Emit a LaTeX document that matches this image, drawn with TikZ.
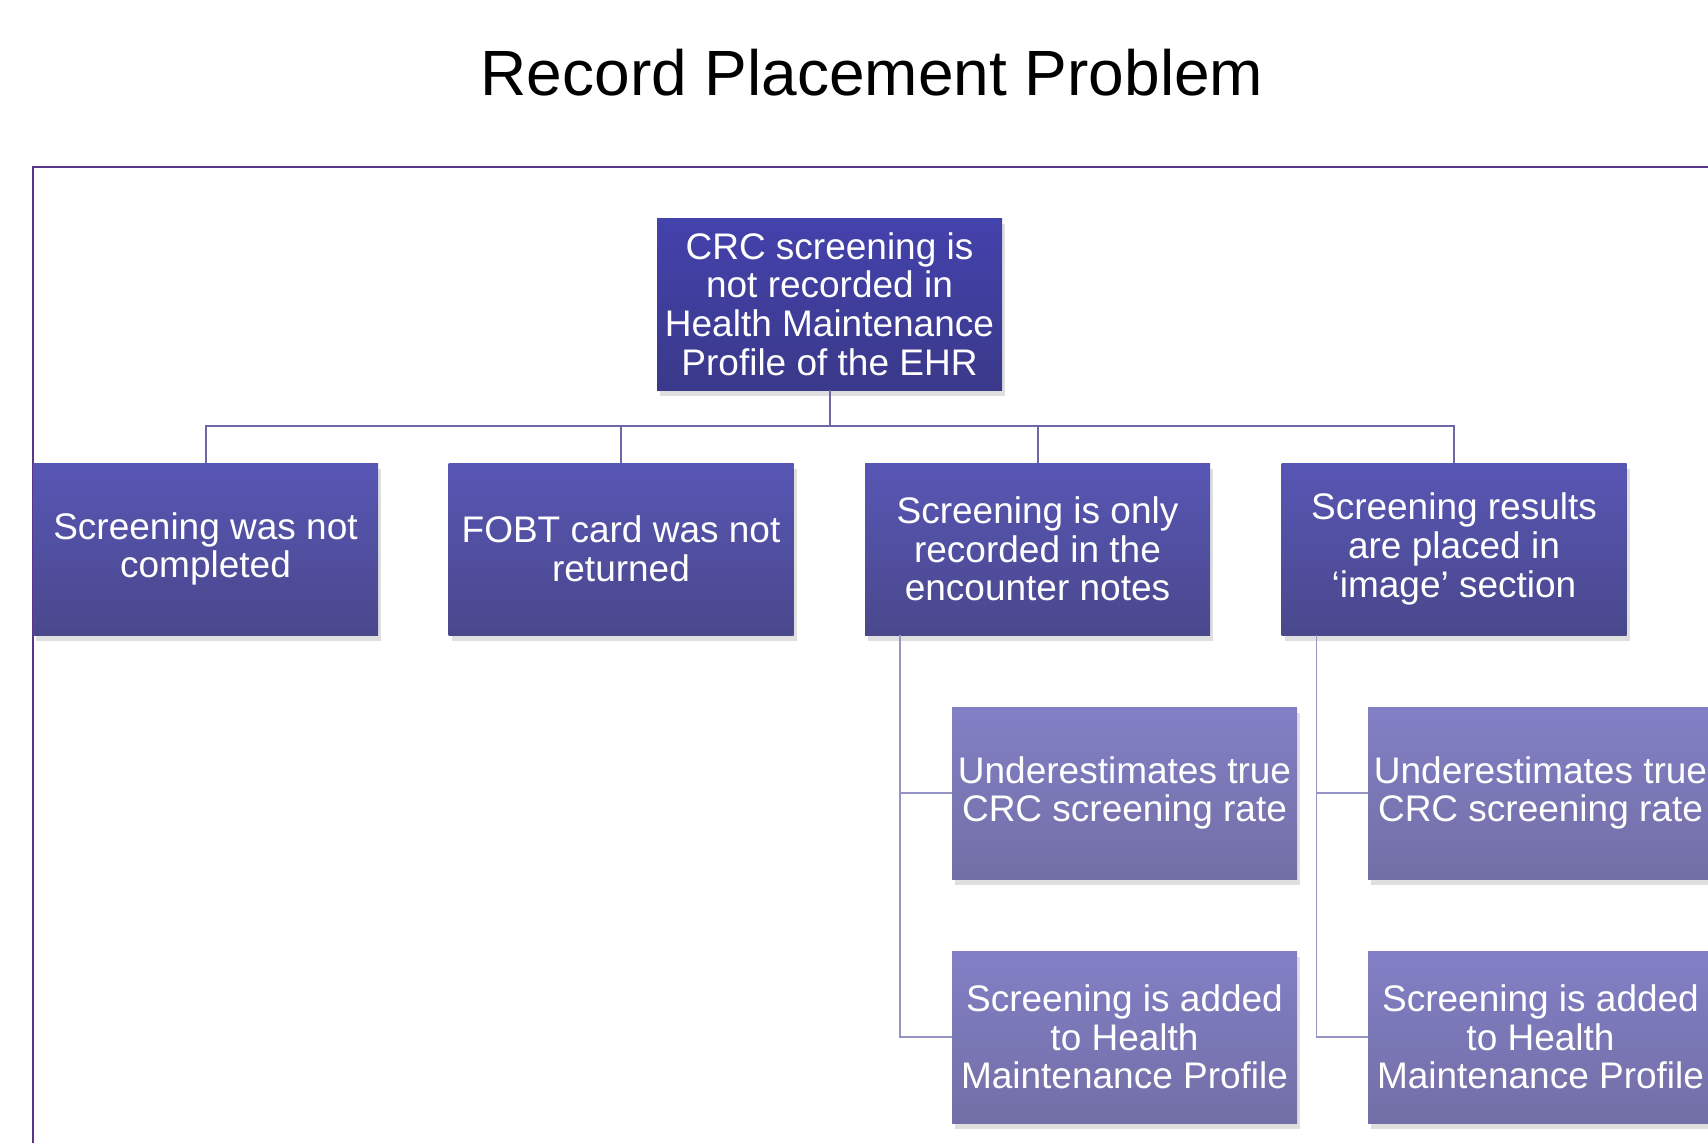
\documentclass[tikz,border=0pt]{standalone}
\usepackage{fontspec}
\setmainfont{Liberation Sans}
\usetikzlibrary{shadows}
\definecolor{framepurple}{RGB}{88,54,138}
\definecolor{linkpurple}{RGB}{108,104,168}
\definecolor{linklight}{RGB}{150,148,196}
\definecolor{topA}{RGB}{68,66,172}
\definecolor{topB}{RGB}{58,57,138}
\definecolor{midA}{RGB}{88,86,180}
\definecolor{midB}{RGB}{74,72,140}
\definecolor{lowA}{RGB}{130,127,198}
\definecolor{lowB}{RGB}{114,111,166}

\begin{document}
\begin{tikzpicture}[x=1pt, y=-1pt,
  box/.style={rectangle, minimum width=345pt, minimum height=172pt, inner sep=0pt,
    align=center, text=white, font=\fontsize{37}{38.7}\selectfont,
    drop shadow={opacity=0.25, shadow xshift=3pt, shadow yshift=-6pt}},
  topbox/.style={box, top color=topA, bottom color=topB},
  causebox/.style={box, top color=midA, bottom color=midB},
  effectbox/.style={box, top color=lowA, bottom color=lowB},
  link/.style={draw=linkpurple, line width=2pt},
  sublink/.style={draw=linklight, line width=1.6pt}]
\useasboundingbox (0,0) rectangle (1708,1143);

% frame and title
\draw[framepurple, line width=2pt] (33,1143) -- (33,167) -- (1708,167);
\node[inner sep=0pt, font=\fontsize{64}{70}\selectfont] (title) at (872,73) {Record Placement Problem};

% problem and causes
\node[topbox] (problem) at (829.5,304) {CRC screening is\\not recorded in\\Health Maintenance\\Profile of the EHR};
\node[causebox] (notdone) at (205.5,549) {Screening was not\\completed};
\node[causebox] (fobt) at (621,549) {FOBT card was not\\returned};
\node[causebox] (notes) at (1037.5,549) {Screening is only\\recorded in the\\encounter notes};
\node[causebox] (image) at (1454,549) {Screening results\\are placed in\\‘image’ section};

% consequences
\node[effectbox] (notesrate) at (1124.5,793) {Underestimates true\\CRC screening rate};
\node[effectbox] (notesadd) at (1124.5,1037) {Screening is added\\to Health\\Maintenance Profile};
\node[effectbox] (imagerate) at (1540.5,793) {Underestimates true\\CRC screening rate};
\node[effectbox] (imageadd) at (1540.5,1037) {Screening is added\\to Health\\Maintenance Profile};

% connectors
\draw[link] (problem.south) -- ++(0,36) -| (notdone.north);
\draw[link] (problem.south) -- ++(0,36) -| (fobt.north);
\draw[link] (problem.south) -- ++(0,36) -| (notes.north);
\draw[link] (problem.south) -- ++(0,36) -| (image.north);
\draw[sublink] ([xshift=35pt]notes.south west) |- (notesrate.west);
\draw[sublink] ([xshift=35pt]notes.south west) |- (notesadd.west);
\draw[sublink] ([xshift=35pt]image.south west) |- (imagerate.west);
\draw[sublink] ([xshift=35pt]image.south west) |- (imageadd.west);
\end{tikzpicture}
\end{document}
